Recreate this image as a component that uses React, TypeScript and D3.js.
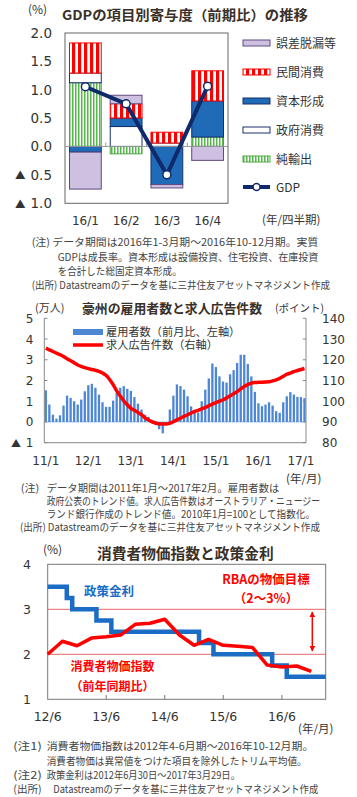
import React from 'react';
import * as d3 from 'd3';

// ---------- Chart 1 data ----------
const quarters = ['16/1', '16/2', '16/3', '16/4'];
const netExports = [1.12, -0.13, 0, 0.165];
const govCons = [0.17, 0.35, 0.06, 0];
const capForm = [-0.1, 0.15, -0.67, 0.635];
const privCons = [0.53, 0.25, 0.19, 0.53];
const errors = [-0.65, 0.15, -0.06, -0.245];
const gdp = [1.05, 0.75, -0.5, 1.06];
const gdpTicks = [2.0, 1.5, 1.0, 0.5, 0.0, -0.5, -1.0];

// ---------- Chart 2 data ----------
const employment = [
  1.53, 0.84, 0.35, 0.16, 0.32, 0.79, 1.27, 1.16, 1.0, 0.84, 1.08, 1.48,
  1.77, 1.84, 1.65, 1.32, 0.95, 0.73, 0.73, 1.03, 1.4, 1.65, 1.73, 1.6,
  1.5, 1.2, 0.88, 0.6, 0.35, 0.25, 0.1, -0.15, -0.35, -0.55, -0.1, 0.6,
  1.27, 1.81, 1.73, 1.56, 1.24, 0.75, 0.55, 0.45, 1.0, 1.56, 2.1, 2.82,
  2.65, 2.2, 1.95, 1.9, 2.3, 2.5, 2.85, 3.24, 3.24, 2.8, 2.2, 1.45,
  0.9, 0.76, 0.84, 0.95, 0.79, 0.52, 0.44, 0.95, 1.24, 1.44, 1.32, 1.21,
  1.2, 1.15,
];
const jobAds = [
  125.6, 124.8, 124.0, 123.2, 122.5, 121.6, 120.5, 119.5, 118.6, 117.5, 116.8, 116.2,
  115.7, 115.3, 114.9, 114.4, 113.6, 112.5, 110.5, 108.0, 105.0, 102.5, 100.2, 98.3,
  96.6, 95.6, 94.6, 93.5, 92.0, 91.0, 90.0, 89.5, 89.1, 89.0, 89.0, 89.4,
  90.1, 91.0, 91.8, 92.7, 93.5, 94.3, 95.1, 95.6, 96.3, 97.0, 97.8, 98.6,
  99.3, 100.0, 100.7, 101.6, 102.6, 103.6, 104.7, 105.9, 107.1, 108.0, 108.7, 109.0,
  109.1, 109.2, 109.3, 109.4, 109.8, 110.3, 111.0, 112.0, 113.0, 113.6, 114.3, 114.8,
  115.3, 115.8,
];
const empTicksLeft = [5, 4, 3, 2, 1, 0, -1];
const empTicksRight = [140, 130, 120, 110, 100, 90, 80];
const empYearLabels = ['11/1', '12/1', '13/1', '14/1', '15/1', '16/1', '17/1'];

// ---------- Chart 3 data ----------
const cpiDates = [
  '2012-06', '2012-09', '2012-12', '2013-03', '2013-06', '2013-09', '2013-12',
  '2014-03', '2014-06', '2014-09', '2014-12', '2015-03', '2015-06', '2015-09',
  '2015-12', '2016-03', '2016-06', '2016-09', '2016-12',
];
const cpiValues = [
  2.0, 2.29, 2.19, 2.36, 2.39, 2.43, 2.67, 2.69, 2.78, 2.43, 2.2, 2.33, 2.2,
  2.18, 2.15, 1.76, 1.72, 1.74, 1.62,
];
const rateDates = [
  '2012-06-01', '2012-09-28', '2012-11-01', '2013-04-01', '2013-07-03',
  '2015-01-01', '2015-04-01', '2016-04-01', '2016-07-01', '2017-03-01',
];
const rateValues = [3.5, 3.25, 3.0, 2.75, 2.5, 2.25, 2.0, 1.75, 1.5, 1.5];
const cpiTicks = [4, 3, 2, 1];
const cpiXLabels = ['12/6', '13/6', '14/6', '15/6', '16/6'];

const JP = "'Noto Sans CJK JP', 'Noto Sans', sans-serif";
const NUM = "'DejaVu Sans', sans-serif";

type NoteProps = { x: number; y: number; w: number; children: string };
const Note = ({ x, y, w, children }: NoteProps) => (
  <text x={x} y={y} textLength={w} lengthAdjust="spacingAndGlyphs">{children}</text>
);

function Chart1() {
  const x = d3.scaleBand<string>().domain(quarters).range([65, 228]).paddingInner(0.22).paddingOuter(0.11);
  const y = d3.scaleLinear().domain([-1, 2]).range([203.3, 32.7]);
  const keys = ['net', 'gov', 'cap', 'priv', 'err'];
  const rows = quarters.map((q, i) => ({
    q, net: netExports[i], gov: govCons[i], cap: capForm[i], priv: privCons[i], err: errors[i],
  }));
  const stack = d3.stack<any>().keys(keys).offset(d3.stackOffsetDiverging);
  const series = stack(rows);
  const style: Record<string, { fill: string; stroke: string }> = {
    net: { fill: 'url(#greenStripe)', stroke: '#4aa83c' },
    gov: { fill: '#ffffff', stroke: '#1b2f6e' },
    cap: { fill: '#1f6bb8', stroke: '#14306a' },
    priv: { fill: 'url(#redStripe)', stroke: '#ff0000' },
    err: { fill: '#cdc0e0', stroke: '#5f4a80' },
  };
  const line = d3.line<number>().x((_, i) => (x(quarters[i]) as number) + x.bandwidth() / 2).y((d) => y(d));
  const legend = [
    { key: 'err', label: '誤差脱漏等' },
    { key: 'priv', label: '民間消費' },
    { key: 'cap', label: '資本形成' },
    { key: 'gov', label: '政府消費' },
    { key: 'net', label: '純輸出' },
  ];
  const legendY = [43, 72, 101, 130, 159];
  return (
    <g>
      <text x={28} y={14} fontSize={12} fontFamily={JP} fill="#333">(%)</text>
      <text x={62} y={20} fontSize={13.5} fontWeight="bold" fontFamily={JP} fill="#3a3028" textLength={246} lengthAdjust="spacingAndGlyphs">GDPの項目別寄与度（前期比）の推移</text>
      <rect x={65} y={33} width={163} height={170.3} fill="#fff" stroke="#666" strokeWidth={1} />
      {series.map((s) => (
        <g key={s.key}>
          {s.map((d, i) => {
            const v0 = d[0], v1 = d[1];
            if (Math.abs(v1 - v0) < 1e-6) return null;
            const top = y(Math.max(v0, v1));
            const h = Math.abs(y(v0) - y(v1));
            return (
              <rect key={i} x={x(quarters[i])} y={top} width={x.bandwidth()} height={h}
                fill={style[s.key].fill} stroke={style[s.key].stroke} strokeWidth={1} />
            );
          })}
        </g>
      ))}
      <line x1={65} x2={228} y1={y(0)} y2={y(0)} stroke="#999" strokeWidth={1} />
      {quarters.slice(1).map((q) => {
        const bx = (x(q) as number) - (x.step() - x.bandwidth()) / 2;
        return <line key={q} x1={bx} x2={bx} y1={y(0)} y2={y(0) - 4} stroke="#999" strokeWidth={1} />;
      })}
      <path d={line(gdp) || ''} fill="none" stroke="#0f2a6b" strokeWidth={4} />
      {gdp.map((v, i) => (
        <circle key={i} cx={(x(quarters[i]) as number) + x.bandwidth() / 2} cy={y(v)} r={4} fill="#fff" stroke="#0f2a6b" strokeWidth={1.5} />
      ))}
      {gdpTicks.map((t) => (
        <g key={t}>
          {t < 0 && <text x={15} y={y(t) + 4.5} fontSize={10.5} fontFamily={JP} fill="#333">▲</text>}
          <text x={52} y={y(t) + 5} fontSize={13.5} fontFamily={NUM} fill="#333" textAnchor="end">{Math.abs(t).toFixed(1)}</text>
        </g>
      ))}
      {quarters.map((q) => (
        <text key={q} x={(x(q) as number) + x.bandwidth() / 2} y={225} fontSize={12} fontFamily={NUM} fill="#333" textAnchor="middle">{q}</text>
      ))}
      <text x={262} y={224} fontSize={11.5} fontFamily={JP} fill="#333">(年/四半期)</text>
      {legend.map((l, i) => (
        <g key={l.key}>
          <rect x={243} y={legendY[i] - 3} width={27} height={6} fill={style[l.key].fill} stroke={style[l.key].stroke} strokeWidth={1} />
          <text x={276} y={legendY[i] + 4.5} fontSize={12} fontFamily={JP} fill="#333">{l.label}</text>
        </g>
      ))}
      <line x1={243} x2={270} y1={187} y2={187} stroke="#0f2a6b" strokeWidth={4} />
      <circle cx={256.5} cy={187} r={3.5} fill="#fff" stroke="#0f2a6b" strokeWidth={1.5} />
      <text x={276} y={191.5} fontSize={12} fontFamily={JP} fill="#333">GDP</text>
      <g fontSize={10.5} fontFamily={JP} fill="#444">
        <Note x={31.7} y={246} w={286.6}>(注) データ期間は2016年1-3月期～2016年10-12月期。実質</Note>
        <Note x={57.7} y={260.5} w={260.6}>GDPは成長率。資本形成は設備投資、住宅投資、在庫投資</Note>
        <Note x={57.7} y={275} w={124}>を合計した総固定資本形成。</Note>
        <Note x={31.7} y={289} w={298.3}>(出所) Datastreamのデータを基に三井住友アセットマネジメント作成</Note>
      </g>
    </g>
  );
}

function Chart2() {
  const months = employment.map((_, i) => i);
  const x = d3.scaleBand<number>().domain(months).range([44.3, 306]).paddingInner(0.35).paddingOuter(0.1);
  const yL = d3.scaleLinear().domain([-1, 5]).range([442.7, 318.3]);
  const yR = d3.scaleLinear().domain([80, 140]).range([442.7, 318.3]);
  const cx = (i: number) => (x(i) as number) + x.bandwidth() / 2;
  const line = d3.line<number>().x((_, i) => cx(i)).y((d) => yR(d)).curve(d3.curveMonotoneX);
  return (
    <g>
      <text x={35} y={312} fontSize={11} fontFamily={JP} fill="#333">(万人)</text>
      <text x={82} y={313} fontSize={13} fontWeight="bold" fontFamily={JP} fill="#3a3028" textLength={180} lengthAdjust="spacingAndGlyphs">豪州の雇用者数と求人広告件数</text>
      <text x={275} y={312} fontSize={10.5} fontFamily={JP} fill="#333">(ポイント)</text>
      {employment.map((v, i) => (
        <rect key={i} x={x(i)} y={yL(Math.max(0, v))} width={x.bandwidth()} height={Math.abs(yL(v) - yL(0))} fill="#4d86d3" />
      ))}
      <line x1={44.3} x2={306} y1={yL(0)} y2={yL(0)} stroke="#4d86d3" strokeWidth={1} strokeDasharray="1,1" />
      <path d={line(jobAds) || ''} fill="none" stroke="#ff0000" strokeWidth={3.5} strokeLinejoin="round" />
      <line x1={44.3} x2={44.3} y1={318.3} y2={442.7} stroke="#888" />
      <line x1={306} x2={306} y1={318.3} y2={442.7} stroke="#888" />
      <line x1={44.3} x2={306} y1={442.7} y2={442.7} stroke="#888" />
      {empTicksLeft.map((t) => (
        <g key={t}>
          <line x1={44.3} x2={47.5} y1={yL(t)} y2={yL(t)} stroke="#888" />
          {t < 0 && <text x={11} y={yL(t) + 4} fontSize={10} fontFamily={JP} fill="#333">▲</text>}
          <text x={29.5} y={yL(t) + 4.5} fontSize={12} fontFamily={NUM} fill="#333" textAnchor="middle">{Math.abs(t)}</text>
        </g>
      ))}
      {empTicksRight.map((t) => (
        <g key={t}>
          <line x1={302.8} x2={306} y1={yR(t)} y2={yR(t)} stroke="#888" />
          <text x={322} y={yR(t) + 4.5} fontSize={12} fontFamily={NUM} fill="#333">{t}</text>
        </g>
      ))}
      {empYearLabels.map((l, k) => (
        <text key={l} x={cx(k * 12)} y={464.5} fontSize={12} fontFamily={NUM} fill="#333" textAnchor="middle">{l}</text>
      ))}
      <text x={286} y={483} fontSize={11.5} fontFamily={JP} fill="#333">(年/月)</text>
      <rect x={73} y={329} width={30} height={6} fill="#4d86d3" />
      <text x={106} y={336} fontSize={11.2} fontFamily={JP} fill="#333">雇用者数（前月比、左軸）</text>
      <line x1={73} x2={103} y1={345} y2={345} stroke="#ff0000" strokeWidth={3.5} />
      <text x={106} y={349} fontSize={11.2} fontFamily={JP} fill="#333">求人広告件数（右軸）</text>
      <g fontSize={10.5} fontFamily={JP} fill="#444">
        <Note x={20.7} y={492} w={18.6}>(注)</Note>
        <Note x={46.7} y={492} w={232.6}>データ期間は2011年1月～2017年2月。雇用者数は</Note>
        <Note x={46.7} y={505} w={273.3}>政府公表のトレンド値。求人広告件数はオーストラリア・ニュージー</Note>
        <Note x={46.7} y={518} w={268.3}>ランド銀行作成のトレンド値。2010年1月=100として指数化。</Note>
        <Note x={20} y={531} w={300}>(出所) Datastreamのデータを基に三井住友アセットマネジメント作成</Note>
      </g>
    </g>
  );
}

function Chart3() {
  const parse = d3.timeParse('%Y-%m');
  const parseD = d3.timeParse('%Y-%m-%d');
  const x = d3.scaleTime().domain([new Date(2012, 5, 1), new Date(2017, 2, 1)]).range([47.7, 325.7]);
  const y = d3.scaleLinear().domain([1, 4]).range([699.3, 564.3]);
  const cpiLine = d3.line<number>().x((_, i) => x(parse(cpiDates[i]) as Date)).y((d) => y(d));
  const rateLine = d3.line<number>().x((_, i) => x(parseD(rateDates[i]) as Date)).y((d) => y(d)).curve(d3.curveStepAfter);
  const labelDates = [2012, 2013, 2014, 2015, 2016].map((yr) => new Date(yr, 5, 1));
  return (
    <g>
      <text x={43} y={553.5} fontSize={12} fontFamily={JP} fill="#333">(%)</text>
      <text x={97} y={558.5} fontSize={14.5} fontWeight="bold" fontFamily={JP} fill="#3a3028" textLength={176.6} lengthAdjust="spacingAndGlyphs">消費者物価指数と政策金利</text>
      <rect x={47.7} y={564.3} width={278} height={135} fill="#fff" stroke="#777" />
      <line x1={47.7} x2={325.7} y1={y(3)} y2={y(3)} stroke="#e04040" strokeWidth={0.8} />
      <line x1={47.7} x2={325.7} y1={y(2)} y2={y(2)} stroke="#e04040" strokeWidth={0.8} />
      {labelDates.slice(1).map((d, i) => (
        <line key={i} x1={x(d)} x2={x(d)} y1={699.3} y2={695} stroke="#777" />
      ))}
      <path d={rateLine(rateValues) || ''} fill="none" stroke="#1a6cc4" strokeWidth={4.5} />
      <path d={cpiLine(cpiValues) || ''} fill="none" stroke="#ff0000" strokeWidth={3.5} strokeLinejoin="round" />
      {cpiTicks.map((t) => (
        <text key={t} x={27} y={y(t) + 4.5} fontSize={12.5} fontFamily={NUM} fill="#333" textAnchor="middle">{t}</text>
      ))}
      {labelDates.map((d, i) => (
        <text key={i} x={x(d)} y={721} fontSize={12.5} fontFamily={NUM} fill="#333" textAnchor="middle">{cpiXLabels[i]}</text>
      ))}
      <text x={298} y={732.5} fontSize={11.5} fontFamily={JP} fill="#333">(年/月)</text>
      <defs>
        <marker id="arrowHead" viewBox="0 0 10 10" refX="9" refY="5" markerWidth="4" markerHeight="4" orient="auto-start-reverse">
          <path d="M0,0 L10,5 L0,10 z" fill="#ff0000" />
        </marker>
      </defs>
      <line x1={312.3} x2={312.3} y1={612} y2={651} stroke="#ff0000" strokeWidth={1.5} markerStart="url(#arrowHead)" markerEnd="url(#arrowHead)" />
      <text x={266} y={583.5} fontSize={12.5} fontWeight="bold" fontFamily={JP} fill="#ff0000" textAnchor="middle">RBAの物価目標</text>
      <text x={266} y={602.5} fontSize={12.5} fontWeight="bold" fontFamily={JP} fill="#ff0000" textAnchor="middle">（2～3%）</text>
      <text x={84} y={595.5} fontSize={12.5} fontWeight="bold" fontFamily={JP} fill="#1a6cc4">政策金利</text>
      <text x={112.5} y={670.5} fontSize={12} fontWeight="bold" fontFamily={JP} fill="#ff0000" textAnchor="middle">消費者物価指数</text>
      <text x={112.5} y={691} fontSize={12} fontWeight="bold" fontFamily={JP} fill="#ff0000" textAnchor="middle">（前年同期比）</text>
      <g fontSize={10.5} fontFamily={JP} fill="#444">
        <Note x={13.3} y={750} w={28.4}>(注1)</Note>
        <Note x={46.7} y={750} w={266.6}>消費者物価指数は2012年4-6月期～2016年10-12月期。</Note>
        <Note x={46.7} y={765} w={260}>消費者物価は異常値をつけた項目を除外したトリム平均値。</Note>
        <Note x={13.3} y={779} w={28.4}>(注2)</Note>
        <Note x={46.7} y={779} w={193.3}>政策金利は2012年6月30日～2017年3月29日。</Note>
        <Note x={13.3} y={793} w={28.4}>(出所)</Note>
        <Note x={53.3} y={793} w={265}>Datastreamのデータを基に三井住友アセットマネジメント作成</Note>
      </g>
    </g>
  );
}

export default function App() {
  return (
    <svg width={357} height={797} viewBox="0 0 357 797" style={{ position: 'absolute', left: 0, top: 0, background: '#fff' }}>
      <defs>
        <pattern id="redStripe" width="6" height="10" patternUnits="userSpaceOnUse">
          <rect width="6" height="10" fill="#fff" />
          <rect width="3.2" height="10" fill="#ff0000" />
        </pattern>
        <pattern id="greenStripe" width="3" height="10" patternUnits="userSpaceOnUse">
          <rect width="3" height="10" fill="#fff" />
          <rect width="1.5" height="10" fill="#55b84a" />
        </pattern>
      </defs>
      <rect width={357} height={797} fill="#fff" />
      <Chart1 />
      <Chart2 />
      <Chart3 />
    </svg>
  );
}
